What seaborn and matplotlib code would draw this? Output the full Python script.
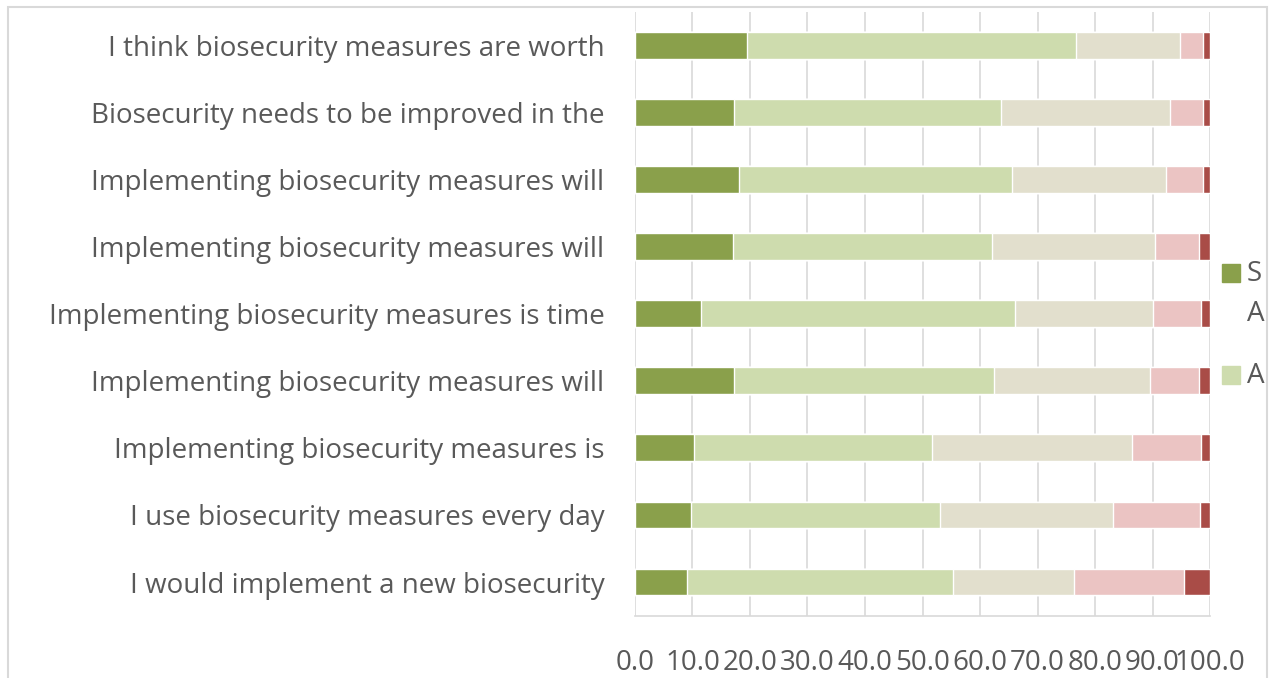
import numpy as np
import pandas as pd
import seaborn as sns
import matplotlib.pyplot as plt
from matplotlib.patches import Rectangle

# survey items, top to bottom
questions = [
    "I think biosecurity measures are worth",
    "Biosecurity needs to be improved in the",
    "Implementing biosecurity measures will",
    "Implementing biosecurity measures will",
    "Implementing biosecurity measures is time",
    "Implementing biosecurity measures will",
    "Implementing biosecurity measures is",
    "I use biosecurity measures every day",
    "I would implement a new biosecurity",
]
# percent of answers per level
strongly_agree = [19.5, 17.2, 18.1, 17.0, 11.5, 17.2, 10.2, 9.8, 9.0]
agree = [57.2, 46.5, 47.5, 45.1, 54.6, 45.3, 41.5, 43.3, 46.3]
neutral = [18.0, 29.3, 26.8, 28.4, 23.9, 27.0, 34.8, 30.0, 21.1]
disagree = [4.0, 5.7, 6.3, 7.5, 8.5, 8.6, 12.0, 15.2, 19.1]
strongly_disagree = [1.3, 1.3, 1.3, 2.0, 1.5, 1.9, 1.5, 1.7, 4.5]

levels = ["Strongly Agree", "Agree", "Neutral", "Disagree", "Strongly Disagree"]
colors = ["#8aa04b", "#cedcae", "#e2dfcd", "#ebc4c3", "#a94c47"]

df = pd.DataFrame({
    "item": [str(i) for i in range(len(questions))],
    "Strongly Agree": strongly_agree,
    "Agree": agree,
    "Neutral": neutral,
    "Disagree": disagree,
    "Strongly Disagree": strongly_disagree,
})
cum = df[levels].cumsum(axis=1)

sns.set_style("white")
plt.rcParams["font.family"] = ["Open Sans", "DejaVu Sans"]
text_col = "#595959"
grid_col = "#d9d9d9"
W, H = 1274, 678

fig = plt.figure(figsize=(12.74, 6.78), dpi=100)
ax = fig.add_axes([0.4984, 0.092, 0.4514, 0.891])

# stacked bars: draw cumulative totals back to front
for lvl, col in zip(levels[::-1], colors[::-1]):
    sns.barplot(x=cum[lvl], y=df["item"], orient="h", color=col, width=0.4,
                saturation=1, ax=ax, zorder=3)

ax.set_xlim(0, 100)
ax.set_xticks(np.arange(0, 101, 10))
ax.set_xticks(np.arange(0, 101, 5), minor=True)
ax.set_xticklabels([f"{v:.1f}" for v in range(0, 101, 10)], fontsize=20, color=text_col)
ax.set_yticks(range(len(questions)))
ax.set_yticklabels(questions, fontsize=20, color=text_col)
ax.set_xlabel("")
ax.set_ylabel("")
ax.tick_params(axis="y", length=0, pad=22)
ax.tick_params(axis="x", which="both", length=8, color=grid_col, width=1.2, pad=16)
ax.grid(axis="x", color=grid_col, linewidth=1.2, zorder=0)
ax.set_axisbelow(True)
for s in ["top", "right", "left"]:
    ax.spines[s].set_visible(False)
ax.spines["bottom"].set_color(grid_col)
ax.spines["bottom"].set_linewidth(1.2)

# legend, cut off by the chart frame like the original ("Strongly Agree" wraps)
leg_items = [(colors[0], 273, ["S", "A"]), (colors[1], 375, ["A"])]
for col, yc, words in leg_items:
    fig.patches.append(Rectangle((1222 / W, 1 - (yc + 9) / H), 18 / W, 18 / H,
                                 transform=fig.transFigure, color=col))
    for k, w in enumerate(words):
        fig.text(1247 / W, 1 - (yc + 1 + 40 * k) / H, w, fontsize=20,
                 color=text_col, va="center", ha="left")

# chart frame
fig.patches.append(Rectangle((8 / W, -0.05), 1259 / W, 1.05 - 7 / H,
                             transform=fig.transFigure, fill=False,
                             edgecolor=grid_col, linewidth=1.5))

fig.savefig("out.png", dpi=100)
